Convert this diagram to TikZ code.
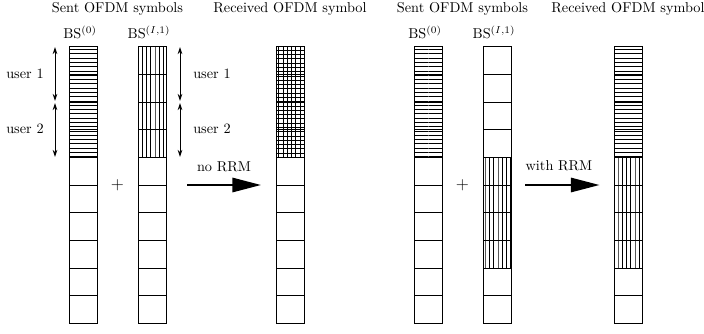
\documentclass[tikz,border=0pt]{standalone}
\usetikzlibrary{patterns,arrows.meta}
\begin{document}
\begin{tikzpicture}[x=0.7pt,y=-0.7pt,
  cell/.style={draw,line width=0.6pt,minimum width=19.6pt,minimum height=19.36pt,inner sep=0pt,outer sep=0pt},
  ph/.style={pattern=horizontal lines},
  pv/.style={pattern=vertical lines},
  pg/.style={pattern=grid},
  p0/.style={},
  lbl/.style={inner sep=1pt,font=\normalsize},
  dbl/.style={line width=0.6pt,{Stealth[length=5pt,width=3.2pt]}-{Stealth[length=5pt,width=3.2pt]}},
  big/.style={line width=1.4pt,-{Triangle[length=20pt,width=10pt]}}]
\useasboundingbox (0,0) rectangle (704,333);
\foreach \n/\x/\pt/\pm in {a/83/ph/p0, b/152/pv/p0, c/290/pg/p0, d/428/ph/p0, e/497/p0/pv, f/628/ph/pv}{
  \foreach \k in {1,...,4}{\node[cell,\pt] (\n\k) at (\x,{46.7+27.66*(\k-0.5)}) {};}
  \foreach \k in {5,...,8}{\node[cell,\pm] (\n\k) at (\x,{46.7+27.66*(\k-0.5)}) {};}
  \foreach \k in {9,10}{\node[cell] (\n\k) at (\x,{46.7+27.66*(\k-0.5)}) {};}
}
% titles
\node[lbl] (t1) at (117.5,9) {Sent OFDM symbols};
\node[lbl] (t2) at (290,9) {Received OFDM symbol};
\node[lbl] (t3) at (462.5,9) {Sent OFDM symbols};
\node[lbl] (t4) at (628,9) {Received OFDM symbol};
\node[lbl] (bs1) at (80,32) {BS$^{(0)}$};
\node[lbl] (bs2) at (149,32) {BS$^{(I,1)}$};
\node[lbl] (bs3) at (425,32) {BS$^{(0)}$};
\node[lbl] (bs4) at (494,32) {BS$^{(I,1)}$};
% user arrows
\coordinate (l1) at (55,47);
\coordinate (l2) at (55,101);
\coordinate (l3) at (55,103);
\coordinate (l4) at (55,157);
\coordinate (r1) at (180,47);
\coordinate (r2) at (180,101);
\coordinate (r3) at (180,103);
\coordinate (r4) at (180,157);
\draw[dbl] (l1) -- (l2);
\draw[dbl] (l3) -- (l4);
\draw[dbl] (r1) -- (r2);
\draw[dbl] (r3) -- (r4);
\node[lbl] (ul1) at (25,74) {user 1};
\node[lbl] (ul2) at (25,129) {user 2};
\node[lbl] (ur1) at (212,74) {user 1};
\node[lbl] (ur2) at (212,129) {user 2};
% plus signs
\node[lbl,font=\large] (plus1) at (117.5,185) {$+$};
\node[lbl,font=\large] (plus2) at (462.5,185) {$+$};
% big arrows
\coordinate (n1) at (187,185);
\coordinate (n2) at (261,185);
\coordinate (w1) at (525,185);
\coordinate (w2) at (599.5,185);
\draw[big] (n1) -- (n2);
\draw[big] (w1) -- (w2);
\node[lbl] (noRRM) at (224,167) {no RRM};
\node[lbl] (withRRM) at (559,166) {with RRM};
\end{tikzpicture}
\end{document}
